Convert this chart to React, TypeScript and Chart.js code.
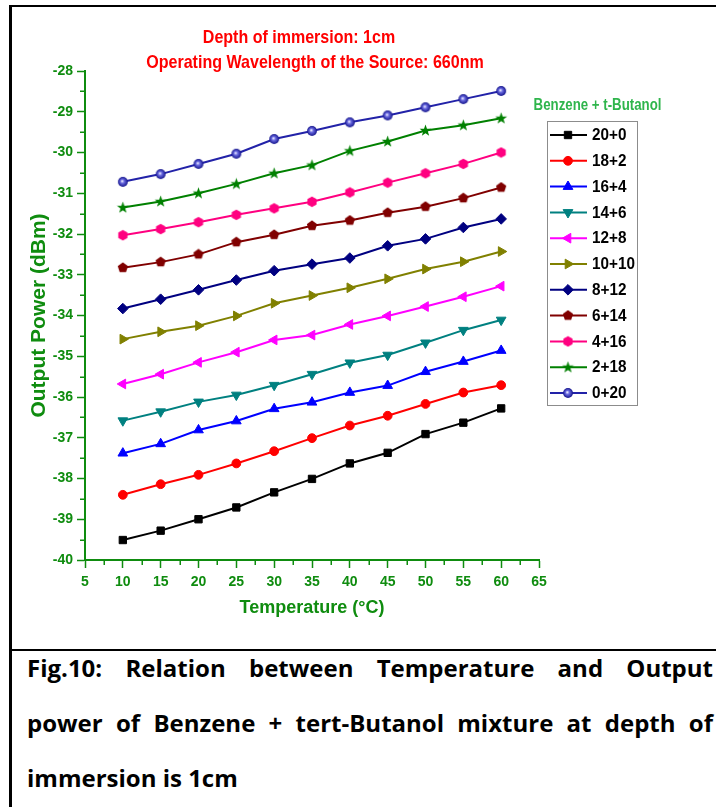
import React, { useEffect, useRef } from 'react';
import { Chart, registerables } from 'chart.js';
import { drawPoint } from 'chart.js/helpers';

Chart.register(...registerables);

// ---------- data ----------
const temperatures = [10, 15, 20, 25, 30, 35, 40, 45, 50, 55, 60];
const seriesLabels = ['20+0', '18+2', '16+4', '14+6', '12+8', '10+10', '8+12', '6+14', '4+16', '2+18', '0+20'];
const s20_0 = [-39.51, -39.28, -39.0, -38.71, -38.34, -38.01, -37.63, -37.37, -36.91, -36.63, -36.28];
const s18_2 = [-38.4, -38.14, -37.91, -37.63, -37.33, -37.01, -36.7, -36.46, -36.17, -35.89, -35.71];
const s16_4 = [-37.38, -37.15, -36.81, -36.59, -36.29, -36.13, -35.89, -35.72, -35.38, -35.13, -34.86];
const s14_6 = [-36.58, -36.36, -36.12, -35.95, -35.71, -35.44, -35.16, -34.97, -34.67, -34.36, -34.11];
const s12_8 = [-35.68, -35.44, -35.15, -34.9, -34.6, -34.48, -34.22, -34.01, -33.78, -33.54, -33.28];
const s10_10 = [-34.58, -34.4, -34.25, -34.01, -33.7, -33.51, -33.32, -33.1, -32.86, -32.68, -32.43];
const s8_12 = [-33.83, -33.6, -33.37, -33.13, -32.9, -32.74, -32.59, -32.29, -32.12, -31.84, -31.63];
const s6_14 = [-32.83, -32.69, -32.5, -32.2, -32.02, -31.8, -31.67, -31.48, -31.33, -31.12, -30.86];
const s4_16 = [-32.03, -31.88, -31.71, -31.53, -31.37, -31.21, -30.98, -30.74, -30.51, -30.28, -30.0];
const s2_18 = [-31.35, -31.2, -31.0, -30.77, -30.51, -30.31, -29.96, -29.73, -29.46, -29.33, -29.16];
const s0_20 = [-30.72, -30.53, -30.28, -30.03, -29.67, -29.47, -29.26, -29.09, -28.89, -28.69, -28.49];
const seriesValues = [s20_0, s18_2, s16_4, s14_6, s12_8, s10_10, s8_12, s6_14, s4_16, s2_18, s0_20];
const seriesColors = ['#000000', '#ff0000', '#0000ff', '#008080', '#ff00ff', '#808000', '#000080', '#800000', '#ff0080', '#008000', '#2222a8'];

const titleLines = ['Depth of immersion: 1cm', 'Operating Wavelength of the Source: 660nm'];
const legendTitle = 'Benzene + t-Butanol';
const xTitle = 'Temperature (°C)';
const yTitle = 'Output Power (dBm)';
const captionLines = [
  'Fig.10: Relation between Temperature and Output',
  'power of Benzene + tert-Butanol mixture at depth of',
  'immersion is 1cm',
];

// ---------- styles ----------
const SANS = "'Liberation Sans', Arial, sans-serif";
const AXIS_GREEN = '#0f8c0f';
const LEGEND_GREEN = '#2fb54c';

function makeCanvas(size: number) {
  const c = document.createElement('canvas');
  c.width = size;
  c.height = size;
  return c;
}

function polygonMarker(color: string, n: number, r: number, startDeg: number) {
  const c = makeCanvas(12);
  const g = c.getContext('2d')!;
  g.beginPath();
  for (let k = 0; k < n; k++) {
    const a = ((startDeg + (k * 360) / n) * Math.PI) / 180;
    const px = 6 + r * Math.cos(a);
    const py = 6 + r * Math.sin(a);
    if (k === 0) g.moveTo(px, py);
    else g.lineTo(px, py);
  }
  g.closePath();
  g.fillStyle = color;
  g.fill();
  return c;
}

function starMarker(color: string) {
  const c = makeCanvas(13);
  const g = c.getContext('2d')!;
  g.beginPath();
  for (let k = 0; k < 10; k++) {
    const a = ((-90 + k * 36) * Math.PI) / 180;
    const r = k % 2 === 0 ? 6.2 : 2.5;
    const px = 6.5 + r * Math.cos(a);
    const py = 6.7 + r * Math.sin(a);
    if (k === 0) g.moveTo(px, py);
    else g.lineTo(px, py);
  }
  g.closePath();
  g.fillStyle = color;
  g.fill();
  return c;
}

function ballMarker() {
  const c = makeCanvas(12);
  const g = c.getContext('2d')!;
  const grad = g.createRadialGradient(5.2, 5.2, 0.3, 6, 6, 5);
  grad.addColorStop(0, '#e8e8ff');
  grad.addColorStop(0.35, '#6a6ae0');
  grad.addColorStop(1, '#12128a');
  g.beginPath();
  g.arc(6, 6, 4.9, 0, Math.PI * 2);
  g.fillStyle = grad;
  g.fill();
  return c;
}

function condensedText(ctx: CanvasRenderingContext2D, text: string, x: number, y: number, sx: number, align: CanvasTextAlign, baseline: CanvasTextBaseline) {
  ctx.save();
  ctx.textAlign = align;
  ctx.textBaseline = baseline;
  ctx.translate(x, y);
  ctx.scale(sx, 1);
  ctx.fillText(text, 0, 0);
  ctx.restore();
}

const decorPlugin = {
  id: 'decor',
  afterDraw(chart: any) {
    const ctx = chart.ctx as CanvasRenderingContext2D;
    const xs = chart.scales.x;
    const ys = chart.scales.y;
    const area = chart.chartArea;

    // minor ticks
    ctx.save();
    ctx.strokeStyle = AXIS_GREEN;
    ctx.lineWidth = 1.5;
    for (let v = xs.min + 2.5; v < xs.max; v += 5) {
      const px = Math.round(xs.getPixelForValue(v)) + 0.25;
      ctx.beginPath();
      ctx.moveTo(px, area.bottom);
      ctx.lineTo(px, area.bottom + 5);
      ctx.stroke();
    }
    for (let v = ys.min + 0.5; v < ys.max; v += 1) {
      const py = Math.round(ys.getPixelForValue(v)) + 0.25;
      ctx.beginPath();
      ctx.moveTo(area.left, py);
      ctx.lineTo(area.left - 5, py);
      ctx.stroke();
    }
    ctx.restore();

    // titles (condensed bold, red)
    ctx.save();
    ctx.fillStyle = '#ff0000';
    ctx.font = `bold 18.5px ${SANS}`;
    condensedText(ctx, titleLines[0], 299, 43, 0.866, 'center', 'alphabetic');
    condensedText(ctx, titleLines[1], 315, 68, 0.868, 'center', 'alphabetic');
    ctx.restore();

    // legend title
    ctx.save();
    ctx.fillStyle = LEGEND_GREEN;
    ctx.font = `bold 17px ${SANS}`;
    condensedText(ctx, legendTitle, 597.5, 105, 0.78, 'center', 'middle');
    ctx.restore();

    // legend box and entries
    ctx.save();
    ctx.fillStyle = '#ffffff';
    ctx.fillRect(547, 121, 90, 284);
    ctx.strokeStyle = '#8c8c8c';
    ctx.lineWidth = 1;
    ctx.strokeRect(547.5, 121.5, 90, 284);
    chart.data.datasets.forEach((ds: any, i: number) => {
      const y = 135 + i * 25.8;
      ctx.strokeStyle = ds.borderColor;
      ctx.lineWidth = 2;
      ctx.beginPath();
      ctx.moveTo(550, y);
      ctx.lineTo(587, y);
      ctx.stroke();
      ctx.fillStyle = ds.pointBackgroundColor;
      ctx.strokeStyle = ds.pointBorderColor;
      ctx.lineWidth = 1;
      drawPoint(ctx, { pointStyle: ds.pointStyle, rotation: ds.pointRotation || 0, radius: ds.pointRadius, borderWidth: 1 } as any, 568, y);
      ctx.fillStyle = '#000000';
      ctx.font = `bold 17px ${SANS}`;
      condensedText(ctx, ds.label, 592, y + 0.5, 0.9, 'left', 'middle');
    });
    ctx.restore();
  },
};

export default function App() {
  const ref = useRef<HTMLCanvasElement>(null);

  useEffect(() => {
    const styles: any[] = [
      { pointStyle: 'rect', rotation: 0, radius: 5.2 },
      { pointStyle: 'circle', rotation: 0, radius: 4.4 },
      { pointStyle: 'triangle', rotation: 0, radius: 5.6 },
      { pointStyle: 'triangle', rotation: 180, radius: 5.6 },
      { pointStyle: 'triangle', rotation: 270, radius: 5.6 },
      { pointStyle: 'triangle', rotation: 90, radius: 5.6 },
      { pointStyle: 'rectRot', rotation: 0, radius: 5.3 },
      { pointStyle: polygonMarker(seriesColors[7], 5, 5.4, -90), rotation: 0, radius: 5 },
      { pointStyle: polygonMarker(seriesColors[8], 6, 5.3, -90), rotation: 0, radius: 5 },
      { pointStyle: starMarker(seriesColors[9]), rotation: 0, radius: 5 },
      { pointStyle: ballMarker(), rotation: 0, radius: 5 },
    ];

    const datasets = seriesLabels.map((label, i) => ({
      label,
      data: temperatures.map((t, j) => ({ x: t, y: seriesValues[i][j] })),
      borderColor: seriesColors[i],
      backgroundColor: seriesColors[i],
      borderWidth: 2,
      pointStyle: styles[i].pointStyle,
      pointRotation: styles[i].rotation,
      pointRadius: styles[i].radius,
      pointBorderWidth: 1,
      pointBorderColor: seriesColors[i],
      pointBackgroundColor: seriesColors[i],
      tension: 0,
      fill: false,
    }));

    const chart = new Chart(ref.current!, {
      type: 'line',
      data: { datasets },
      options: {
        responsive: false,
        animation: false,
        layout: { padding: { left: 0, top: 71, right: 177, bottom: 0 } },
        plugins: {
          legend: { display: false },
          title: { display: false },
          tooltip: { enabled: false },
        },
        scales: {
          x: {
            type: 'linear',
            min: 5,
            max: 65,
            ticks: {
              stepSize: 5,
              color: AXIS_GREEN,
              font: { family: SANS, size: 14, weight: 'bold' },
              padding: 6,
              maxRotation: 0,
              autoSkip: false,
            },
            grid: { drawOnChartArea: false, drawTicks: true, tickLength: 8, tickColor: AXIS_GREEN, tickWidth: 1.5 },
            border: { display: true, color: AXIS_GREEN, width: 2 },
            title: {
              display: true,
              text: xTitle,
              color: AXIS_GREEN,
              font: { family: SANS, size: 18, weight: 'bold' },
              padding: { top: 0, bottom: 29 },
            },
            afterFit: (s: any) => {
              s.height = 88;
            },
          },
          y: {
            type: 'linear',
            min: -40,
            max: -28,
            ticks: {
              stepSize: 1,
              color: AXIS_GREEN,
              font: { family: SANS, size: 14, weight: 'bold' },
              padding: 4,
              autoSkip: false,
            },
            grid: { drawOnChartArea: false, drawTicks: true, tickLength: 8, tickColor: AXIS_GREEN, tickWidth: 1.5 },
            border: { display: true, color: AXIS_GREEN, width: 2 },
            title: {
              display: true,
              text: yTitle,
              color: AXIS_GREEN,
              font: { family: SANS, size: 21, weight: 'bold' },
              padding: { top: 27, bottom: 0 },
            },
            afterFit: (s: any) => {
              s.width = 85;
            },
          },
        },
      } as any,
      plugins: [decorPlugin],
    });
    return () => chart.destroy();
  }, []);

  const captionStyle: React.CSSProperties = {
    position: 'absolute',
    left: 27,
    width: 686,
    fontFamily: "'Open Sans', sans-serif",
    fontWeight: 700,
    fontSize: 24,
    lineHeight: '24px',
    color: '#000',
    whiteSpace: 'normal',
  };

  return (
    <div style={{ position: 'absolute', left: 0, top: 0, width: 716, height: 807, overflow: 'hidden', background: '#fff' }}>
      <canvas ref={ref} width={716} height={648} style={{ position: 'absolute', left: 0, top: 0, width: 716, height: 648 }} />
      <div style={{ position: 'absolute', left: 9, top: 5, width: 707, height: 2, background: '#000' }} />
      <div style={{ position: 'absolute', left: 9, top: 5, width: 3, height: 802, background: '#000' }} />
      <div style={{ position: 'absolute', left: 12, top: 649, width: 704, height: 2, background: '#000' }} />
      <div style={{ ...captionStyle, top: 656, textAlign: 'justify', textAlignLast: 'justify' as any }}>{captionLines[0]}</div>
      <div style={{ ...captionStyle, top: 711, textAlign: 'justify', textAlignLast: 'justify' as any }}>{captionLines[1]}</div>
      <div style={{ ...captionStyle, top: 766, textAlign: 'left' }}>{captionLines[2]}</div>
    </div>
  );
}
